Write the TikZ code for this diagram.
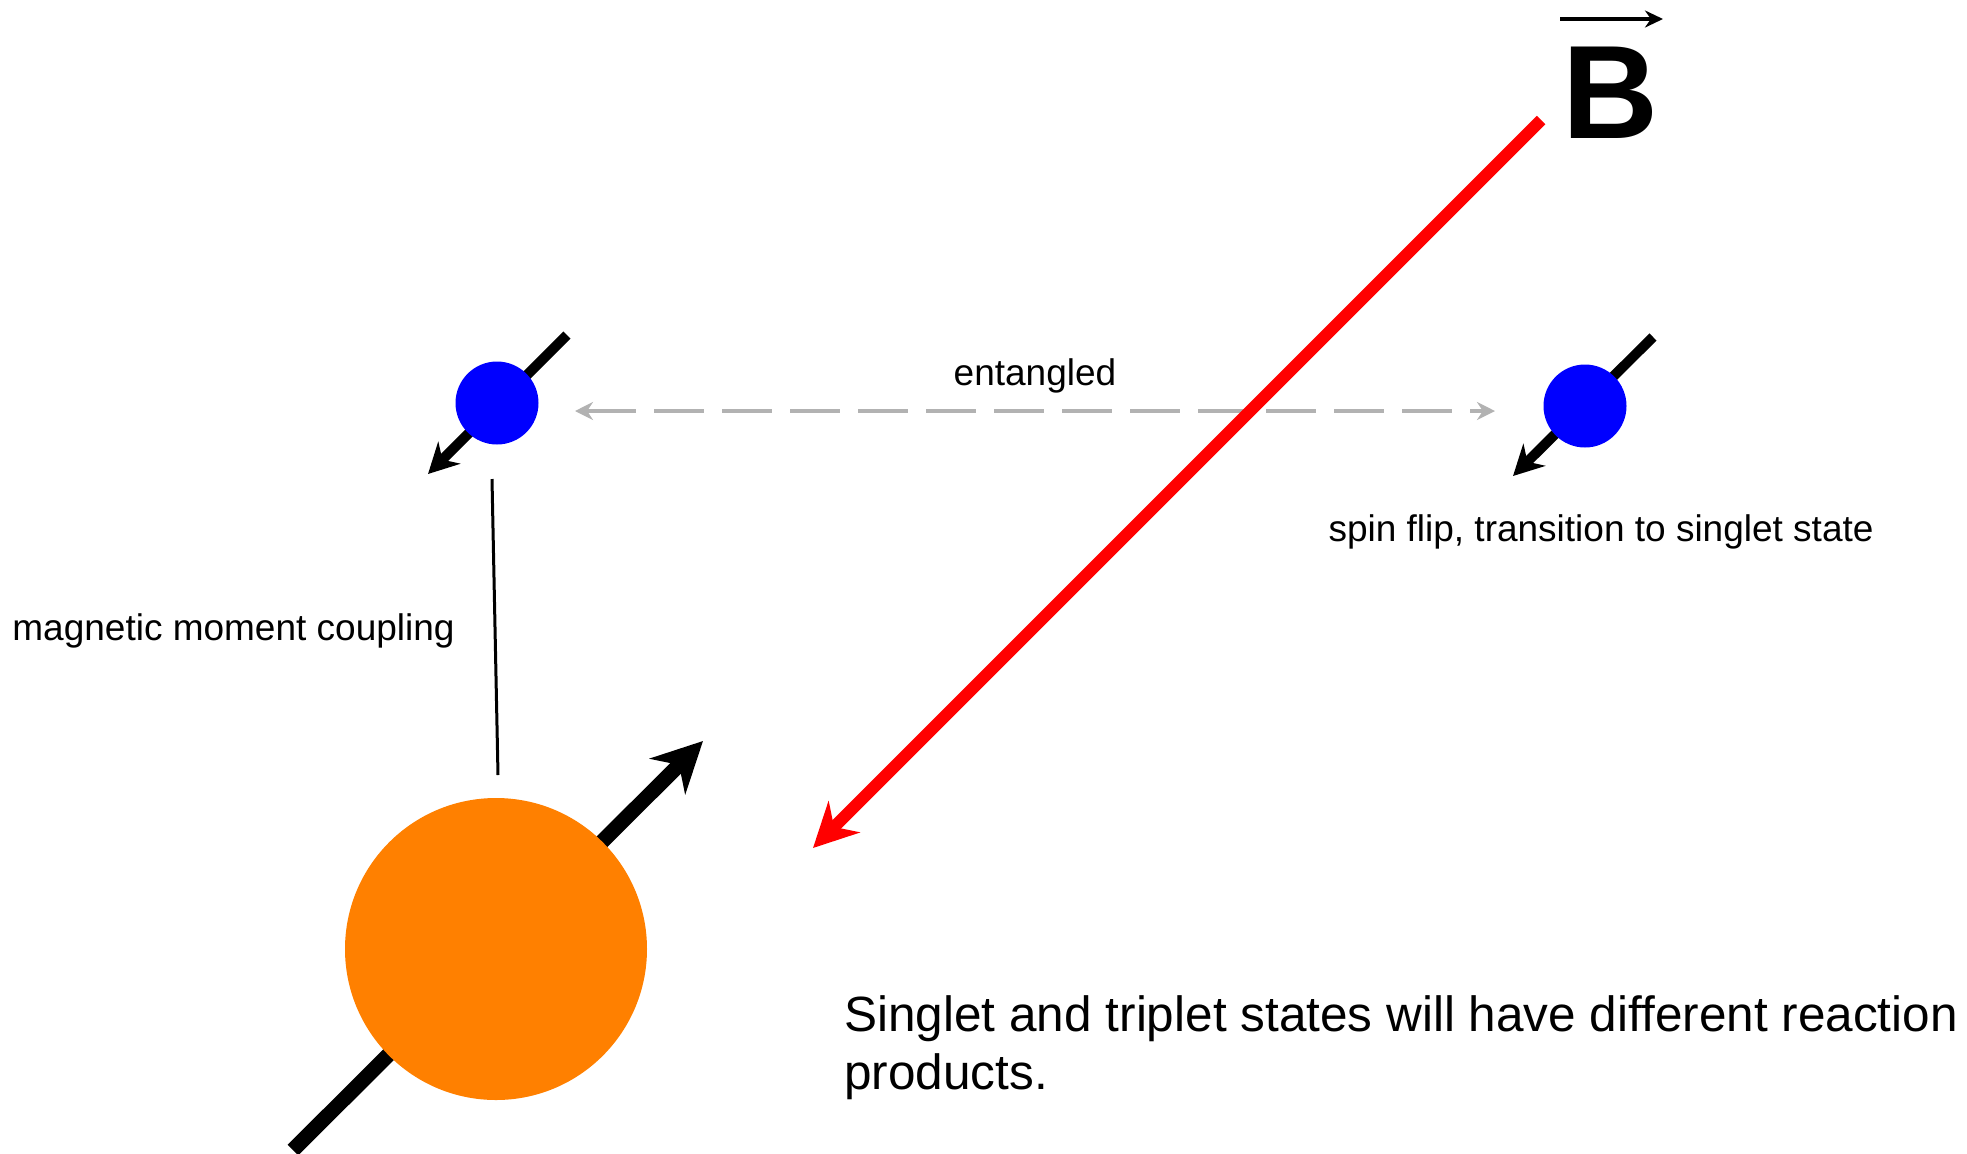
\documentclass[tikz,border=0pt]{standalone}
\usepackage{fontspec}
\setmainfont{Liberation Sans}
\usetikzlibrary{arrows.meta}
\definecolor{SpinBlue}{RGB}{0,0,255}
\definecolor{NucOrange}{RGB}{255,128,0}
\definecolor{FieldRed}{RGB}{255,0,0}
\definecolor{LinkGray}{RGB}{178,178,178}

\begin{document}
\begin{tikzpicture}[x=0.5pt, y=-0.5pt, >=Stealth]
    \tikzstyle{electron}=[circle, fill=SpinBlue, inner sep=0pt, minimum size=41.5pt]
    \tikzstyle{nucleus}=[circle, fill=NucOrange, inner sep=0pt, minimum size=151pt]
    \tikzstyle{spinarrow}=[-{Stealth[length=15pt, width=15.5pt]}, line width=5pt]
    \tikzstyle{smalltext}=[font=\fontsize{18.5}{22}\selectfont, inner sep=0pt]
    \useasboundingbox (0,0) rectangle (1967,1153);

    % spin axes (drawn first, the particles sit on top)
    \coordinate (eA top) at (567,335);
    \coordinate (eA tip) at (428,474);
    \coordinate (eB top) at (1653,337);
    \coordinate (eB tip) at (1513,476);
    \coordinate (nuc tail) at (293,1150);
    \coordinate (nuc tip) at (703,741);
    \draw[spinarrow] (eA top) -- (eA tip);
    \draw[spinarrow] (eB top) -- (eB tip);
    \draw[-{Stealth[length=25pt, width=25pt]}, line width=7.5pt] (nuc tail) -- (nuc tip);

    \node[electron] (eA) at (497,403) {};
    \node[electron] (eB) at (1585,406) {};
    \node[nucleus] (nuc) at (496,949) {};

    % entanglement
    \coordinate (linkA) at (575,411);
    \coordinate (linkB) at (1495,411);
    \draw[{Stealth[length=9pt, width=9pt]}-{Stealth[length=9pt, width=9pt]}, LinkGray, line width=2pt,
        dash pattern=on 25pt off 9pt] (linkA) -- (linkB);
    \node[smalltext, anchor=base] (entangled) at (1035,385) {entangled};

    % coupling between electron and nucleus
    \coordinate (coupA) at (492,479);
    \coordinate (coupB) at (498,775);
    \draw[line width=1.5pt] (coupA) -- (coupB);
    \node[smalltext, anchor=base west] (coupling) at (12,640) {magnetic moment coupling};

    \node[smalltext, anchor=base] (flip) at (1601,541) {spin flip, transition to singlet state};

    % field
    \node[font=\bfseries\fontsize{66.5}{70}\selectfont, inner sep=0pt, anchor=base west] (B) at (1562,138) {B};
    \coordinate (Bvec start) at (1560,19);
    \coordinate (Bvec end) at (1663,19);
    \draw[-{Stealth[length=9pt, width=8.5pt]}, line width=2pt] (Bvec start) -- (Bvec end);
    \coordinate (field start) at (1541,120);
    \coordinate (field end) at (813,848);
    \draw[-{Stealth[length=22pt, width=22pt]}, FieldRed, line width=6pt] (field start) -- (field end);

    \node[font=\fontsize{24.75}{29}\selectfont, inner sep=0pt, anchor=base west, align=left] (result) at (844,1089)
        {Singlet and triplet states will have different reaction\\products.};
\end{tikzpicture}
\end{document}
